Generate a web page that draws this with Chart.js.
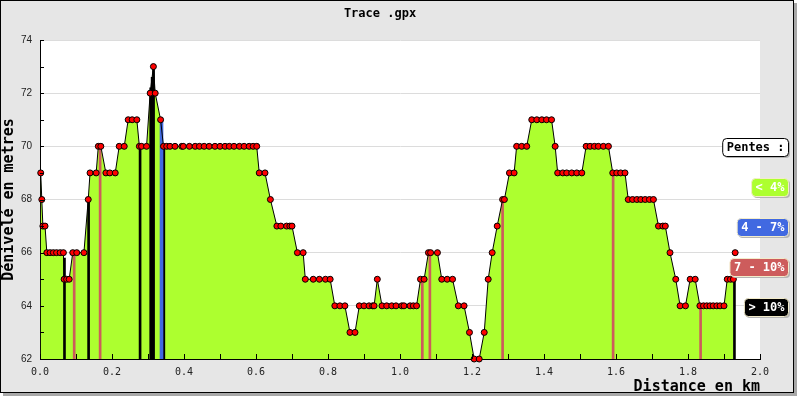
<!DOCTYPE html>
<html>
<head>
<meta charset="utf-8">
<script src="https://cdn.jsdelivr.net/npm/chart.js@4/dist/chart.umd.min.js"></script>
<style>
  body { margin: 0; background: #fff; }
  #frame { position: absolute; left: 0; top: 0; width: 792px; height: 391px; background: #e6e6e6; border: 1px solid #000; box-shadow: 3px 3px 0 #a8a8a8; }
  #profile { position: absolute; left: 0; top: 0; }
</style>
</head>
<body>
<div id="frame"></div>
<canvas id="profile" width="800" height="400"></canvas>
<script>
const ctx = document.getElementById('profile');

// Profil altimetrique : distance (km) et altitude (m) de chaque point du trace
const distKm = [
  0.002, 0.005, 0.008, 0.014, 0.019, 0.028, 0.037, 0.046, 0.056, 0.065,
  0.067, 0.074, 0.081, 0.091, 0.102, 0.122, 0.134, 0.139, 0.156, 0.162,
  0.169, 0.183, 0.194, 0.209, 0.220, 0.234, 0.245, 0.256, 0.269, 0.276,
  0.282, 0.296, 0.306, 0.315, 0.320, 0.335, 0.343, 0.352, 0.361, 0.375,
  0.394, 0.398, 0.415, 0.431, 0.443, 0.456, 0.470, 0.486, 0.500, 0.514,
  0.526, 0.539, 0.554, 0.567, 0.581, 0.592, 0.602, 0.609, 0.625, 0.640,
  0.658, 0.669, 0.685, 0.694, 0.700, 0.715, 0.731, 0.737, 0.759, 0.776,
  0.793, 0.806, 0.819, 0.833, 0.847, 0.861, 0.875, 0.887, 0.900, 0.914,
  0.924, 0.928, 0.937, 0.950, 0.963, 0.977, 0.989, 1.005, 1.011, 1.028,
  1.037, 1.046, 1.057, 1.067, 1.079, 1.085, 1.104, 1.116, 1.131, 1.146,
  1.162, 1.178, 1.193, 1.206, 1.220, 1.234, 1.245, 1.256, 1.270, 1.285,
  1.290, 1.304, 1.317, 1.324, 1.338, 1.352, 1.366, 1.380, 1.394, 1.407,
  1.421, 1.431, 1.438, 1.452, 1.463, 1.477, 1.491, 1.505, 1.517, 1.528,
  1.540, 1.551, 1.565, 1.579, 1.591, 1.602, 1.613, 1.625, 1.634, 1.646,
  1.658, 1.669, 1.681, 1.693, 1.704, 1.718, 1.730, 1.737, 1.750, 1.766,
  1.778, 1.793, 1.806, 1.820, 1.833, 1.843, 1.852, 1.861, 1.870, 1.880,
  1.889, 1.900, 1.909, 1.918, 1.926, 1.931
];
const altM = [
  69, 68, 67, 67, 66, 66, 66, 66, 66, 66,
  65, 65, 65, 66, 66, 66, 68, 69, 69, 70,
  70, 69, 69, 69, 70, 70, 71, 71, 71, 70,
  70, 70, 72, 73, 72, 71, 70, 70, 70, 70,
  70, 70, 70, 70, 70, 70, 70, 70, 70, 70,
  70, 70, 70, 70, 70, 70, 70, 69, 69, 68,
  67, 67, 67, 67, 67, 66, 66, 65, 65, 65,
  65, 65, 64, 64, 64, 63, 63, 64, 64, 64,
  64, 64, 65, 64, 64, 64, 64, 64, 64, 64,
  64, 64, 65, 65, 66, 66, 66, 65, 65, 65,
  64, 64, 63, 62, 62, 63, 65, 66, 67, 68,
  68, 69, 69, 70, 70, 70, 71, 71, 71, 71,
  71, 70, 69, 69, 69, 69, 69, 69, 70, 70,
  70, 70, 70, 70, 69, 69, 69, 69, 68, 68,
  68, 68, 68, 68, 68, 67, 67, 67, 66, 65,
  64, 64, 65, 65, 64, 64, 64, 64, 64, 64,
  64, 64, 65, 65, 65, 66
];

// Pentes : barres verticales par classe (distance, hauteur)
const pente4a7Dist = [0.3375];
const pente4a7Alt = [70.9];
const pente7a10Dist = [0.095, 0.167, 1.062, 1.083, 1.285, 1.592, 1.835];
const pente7a10Alt = [65.9, 70, 65, 66, 68, 69, 64];
const penteSup10Dist = [0.068, 0.135, 0.278, 0.3075, 0.3115, 0.3155, 0.344, 1.929];
const penteSup10Alt = [65.8, 68, 70, 72.2, 72.6, 72.9, 70, 65];

// Legende
const legendLabels = ['Pentes :', '< 4%', '4 - 7%', '7 - 10%', '> 10%'];
const legendColors = ['#ffffff', '#adff2f', '#4169e1', '#cd5c5c', '#000000'];

const pts = (xs, ys) => xs.map((x, i) => ({ x: x, y: ys[i] }));

// fond blanc de la zone de trace
const plotBackground = {
    id: 'plotBackground',
    beforeDraw(chart) {
        const a = chart.chartArea;
        chart.ctx.save();
        chart.ctx.fillStyle = '#ffffff';
        chart.ctx.fillRect(a.left, a.top, a.right - a.left, a.bottom - a.top);
        chart.ctx.restore();
    }
};

// petites graduations vers l'interieur
const innerTicks = {
    id: 'innerTicks',
    afterDatasetsDraw(chart) {
        const { ctx: c, chartArea: a, scales: { x, y } } = chart;
        c.save();
        c.strokeStyle = '#000';
        c.lineWidth = 1;
        c.beginPath();
        x.ticks.forEach(t => {
            const px = Math.round(x.getPixelForValue(t.value)) + 0.5;
            c.moveTo(px, a.bottom);
            c.lineTo(px, a.bottom - 5);
        });
        y.ticks.forEach(t => {
            const py = Math.round(y.getPixelForValue(t.value)) + 0.5;
            c.moveTo(a.left, py);
            c.lineTo(a.left + 4, py);
        });
        c.stroke();
        c.restore();
    }
};

// legende des pentes, etiquettes arrondies a droite
const pentesLegend = {
    id: 'pentesLegend',
    afterDraw(chart) {
        const c = chart.ctx;
        c.save();
        c.font = 'bold 12px "DejaVu Sans Mono"';
        c.textBaseline = 'middle';
        legendLabels.forEach((label, i) => {
            const w = c.measureText(label).width + 8;
            const h = 18;
            const right = 788;
            const cy = 147 + i * 40;
            const left = right - w;
            const top = cy - h / 2;
            c.fillStyle = '#b4b4b4';
            c.beginPath();
            c.roundRect(left + 2, top + 2, w, h, 4);
            c.fill();
            c.fillStyle = legendColors[i];
            c.strokeStyle = i === 0 ? '#000' : '#f3eccb';
            c.lineWidth = 1;
            c.beginPath();
            c.roundRect(left + 0.5, top + 0.5, w, h, 4);
            c.fill();
            c.stroke();
            c.fillStyle = i === 0 ? '#000' : '#fff';
            c.fillText(label, left + 4.5, cy + 1);
        });
        c.restore();
    }
};

new Chart(ctx, {
    type: 'line',
    data: {
        datasets: [{
            type: 'line',
            label: 'Altitude',
            data: pts(distKm, altM),
            order: 1,
            fill: 'start',
            backgroundColor: '#adff2f',
            borderColor: '#000',
            borderWidth: 1,
            tension: 0,
            clip: false,
            pointRadius: 3,
            pointBackgroundColor: '#ff0000',
            pointBorderColor: '#000',
            pointBorderWidth: 1,
            segment: {
                borderColor: c => c.p1DataIndex === distKm.length - 1 ? 'transparent' : '#000'
            }
        }, {
            type: 'bar',
            label: '4 - 7%',
            data: pts(pente4a7Dist, pente4a7Alt),
            order: 2,
            grouped: false,
            barThickness: 3,
            backgroundColor: '#4169e1'
        }, {
            type: 'bar',
            label: '7 - 10%',
            data: pts(pente7a10Dist, pente7a10Alt),
            order: 2,
            grouped: false,
            barThickness: 2,
            backgroundColor: '#cd5c5c'
        }, {
            type: 'bar',
            label: '> 10%',
            data: pts(penteSup10Dist, penteSup10Alt),
            order: 2,
            grouped: false,
            barThickness: 2,
            backgroundColor: '#000'
        }]
    },
    options: {
        responsive: false,
        devicePixelRatio: 1,
        animation: false,
        layout: { padding: { left: 0, top: 0, right: 40, bottom: 0 } },
        plugins: {
            legend: { display: false },
            tooltip: { enabled: false },
            filler: { drawTime: 'beforeDatasetsDraw' },
            title: {
                display: true,
                text: 'Trace .gpx',
                color: '#000',
                font: { family: 'DejaVu Sans Mono', size: 12, weight: 'bold' },
                padding: { top: 7, bottom: 18.6 }
            }
        },
        scales: {
            x: {
                type: 'linear',
                min: 0,
                max: 2,
                offset: false,
                afterFit: s => { s.height = 41 },
                grid: { color: 'transparent', drawTicks: false },
                border: { display: true, color: '#000', width: 1 },
                ticks: {
                    stepSize: 0.1,
                    padding: 7,
                    autoSkip: false,
                    maxRotation: 0,
                    color: '#222',
                    font: { family: 'DejaVu Sans Mono', size: 10 },
                    callback: (v, i) => i % 2 === 0 ? v.toFixed(1) : ''
                },
                title: {
                    display: true,
                    text: 'Distance en km',
                    align: 'end',
                    color: '#000',
                    font: { family: 'DejaVu Sans Mono', size: 15, weight: 'bold' },
                    padding: { top: 0, bottom: 4 }
                }
            },
            y: {
                min: 62,
                max: 74,
                afterFit: s => { s.width = 40 },
                grid: {
                    color: c => c.tick.value % 2 === 0 ? '#dcdcdc' : 'transparent',
                    drawTicks: false
                },
                border: { display: true, color: '#000', width: 1 },
                ticks: {
                    stepSize: 1,
                    padding: 8,
                    autoSkip: false,
                    color: '#222',
                    font: { family: 'Liberation Sans', size: 10 },
                    callback: v => v % 2 === 0 ? v : ''
                },
                title: {
                    display: true,
                    text: 'Dénivelé en metres',
                    color: '#000',
                    font: { family: 'DejaVu Sans Mono', size: 15, weight: 'bold' },
                    padding: { top: 0, bottom: 0 }
                }
            }
        }
    },
    plugins: [plotBackground, innerTicks, pentesLegend]
});
</script>
</body>
</html>
